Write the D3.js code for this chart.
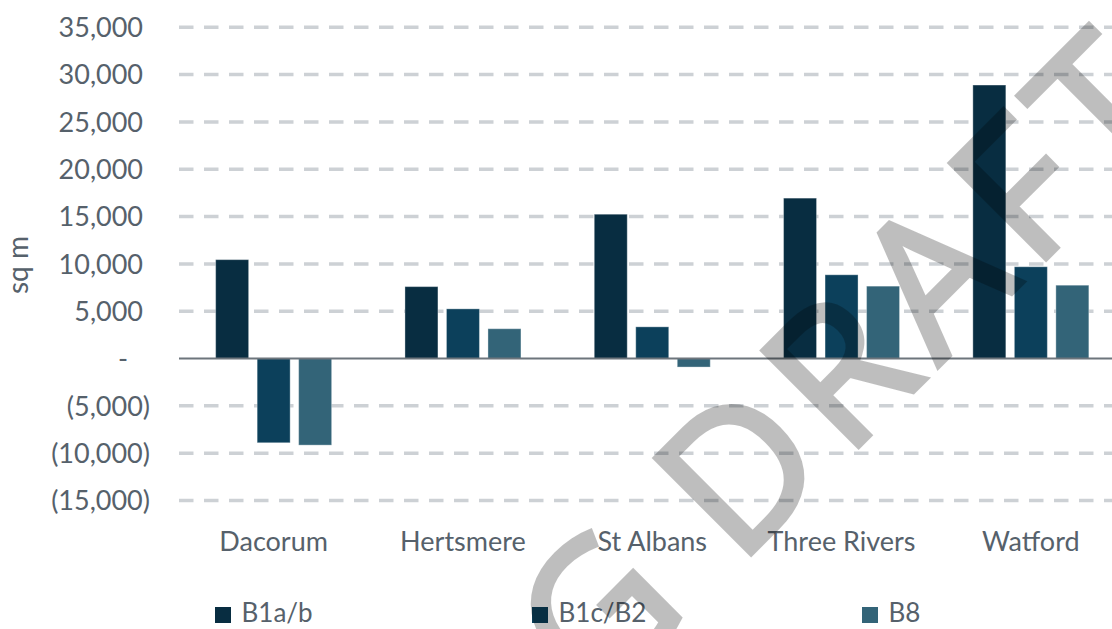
<!DOCTYPE html>
<html>
<head>
<meta charset="utf-8">
<script src="https://cdn.jsdelivr.net/npm/d3@7"></script>
<style>
  html, body { margin: 0; padding: 0; background: #ffffff; }
  svg { display: block; }
</style>
</head>
<body>
<svg id="chart" width="1112" height="629"></svg>
<script>
const categories = ["Dacorum", "Hertsmere", "St Albans", "Three Rivers", "Watford"];
const seriesNames = ["B1a/b", "B1c/B2", "B8"];
const seriesB1ab = [10450, 7600, 15250, 16950, 28900];
const seriesB1cB2 = [-8900, 5250, 3350, 8850, 9700];
const seriesB8 = [-9150, 3150, -900, 7650, 7750];
const yTicks = [-15000, -10000, -5000, 0, 5000, 10000, 15000, 20000, 25000, 30000, 35000];
const colors = ["#082d41", "#0c405b", "#336478"];
const axisTitle = "sq m";
const watermarkLeft = "WORKING";
const watermarkRight = "DRAFT";

const seriesValues = [seriesB1ab, seriesB1cB2, seriesB8];
const textColor = "#56616b";
const font = "Lato, 'Open Sans', sans-serif";

const svg = d3.select("#chart");

const plotLeft = 179, plotRight = 1125.5;
const x0 = d3.scaleBand().domain(categories).range([plotLeft, plotRight]).padding(0);
const groupW = 116;
const x1 = d3.scaleBand().domain(seriesNames)
  .range([(x0.bandwidth() - groupW) / 2, (x0.bandwidth() + groupW) / 2])
  .paddingInner(0.205).paddingOuter(0);
const y = d3.scaleLinear().domain([-15000, 35000]).range([500.5, 27.3]);

// gridlines
svg.append("g").selectAll("line")
  .data(yTicks.filter(v => v !== 0))
  .join("line")
  .attr("x1", plotLeft).attr("x2", 1112)
  .attr("y1", d => y(d)).attr("y2", d => y(d))
  .attr("stroke", "#cdd1d5")
  .attr("stroke-width", 3.5)
  .attr("stroke-dasharray", "14.5,10.5");

// y tick labels
const fmt = d3.format(",");
svg.append("g").selectAll("text")
  .data(yTicks)
  .join("text")
  .attr("x", d => d > 0 ? 143 : (d < 0 ? 150 : 128))
  .attr("y", d => y(d))
  .attr("dy", "0.36em")
  .attr("text-anchor", "end")
  .attr("fill", textColor)
  .style("font-family", font)
  .style("font-size", "27px")
  .text(d => d === 0 ? "-" : (d < 0 ? "(" + fmt(-d) + ")" : fmt(d)));

// axis title
svg.append("text")
  .attr("transform", "translate(28,265) rotate(-90)")
  .attr("text-anchor", "middle")
  .attr("fill", textColor)
  .style("font-family", font)
  .style("font-size", "28px")
  .text(axisTitle);

// bars
const groups = svg.append("g").selectAll("g")
  .data(categories)
  .join("g")
  .attr("transform", d => `translate(${x0(d)},0)`);

groups.selectAll("rect")
  .data((c, i) => seriesNames.map((s, j) => ({ s, j, v: seriesValues[j][i] })))
  .join("rect")
  .attr("x", d => x1(d.s))
  .attr("width", x1.bandwidth())
  .attr("y", d => y(Math.max(0, d.v)))
  .attr("height", d => Math.abs(y(d.v) - y(0)))
  .attr("fill", d => colors[d.j])
  .attr("stroke", "#ffffff")
  .attr("stroke-opacity", 0.35)
  .attr("stroke-width", 1);

// zero line
svg.append("line")
  .attr("x1", plotLeft).attr("x2", 1112)
  .attr("y1", y(0)).attr("y2", y(0))
  .attr("stroke", "#6d757c")
  .attr("stroke-width", 2);

// category labels
svg.append("g").selectAll("text")
  .data(categories)
  .join("text")
  .attr("x", d => x0(d) + x0.bandwidth() / 2)
  .attr("y", 551)
  .attr("text-anchor", "middle")
  .attr("fill", textColor)
  .style("font-family", font)
  .style("font-size", "27px")
  .text(d => d);

// legend
const legendX = [215, 532, 862];
const legend = svg.append("g").selectAll("g")
  .data(seriesNames)
  .join("g")
  .attr("transform", (d, i) => `translate(${legendX[i]},0)`);
legend.append("rect")
  .attr("x", 0).attr("y", 607).attr("width", 16).attr("height", 16)
  .attr("fill", (d, i) => colors[i]);
legend.append("text")
  .attr("x", 26.5).attr("y", 622)
  .attr("fill", textColor)
  .style("font-family", font)
  .style("font-size", "26px")
  .text(d => d);

// watermark
const wm = svg.append("g")
  .attr("transform", "translate(738,567) rotate(-45)")
  .attr("opacity", 0.25)
  .style("pointer-events", "none");
wm.append("text")
  .attr("x", -49).attr("y", 0)
  .attr("text-anchor", "end")
  .attr("fill", "#000")
  .attr("stroke", "#000")
  .attr("stroke-width", 5)
  .attr("stroke-linejoin", "miter")
  .style("font-family", "'Open Sans', sans-serif")
  .style("font-size", "190px")
  .style("letter-spacing", "14px")
  .text(watermarkLeft);
wm.append("text")
  .attr("x", 0).attr("y", 0)
  .attr("fill", "#000")
  .attr("stroke", "#000")
  .attr("stroke-width", 5)
  .attr("stroke-linejoin", "miter")
  .style("font-family", "'Open Sans', sans-serif")
  .style("font-size", "190px")
  .style("letter-spacing", "14px")
  .text(watermarkRight);
</script>
</body>
</html>
